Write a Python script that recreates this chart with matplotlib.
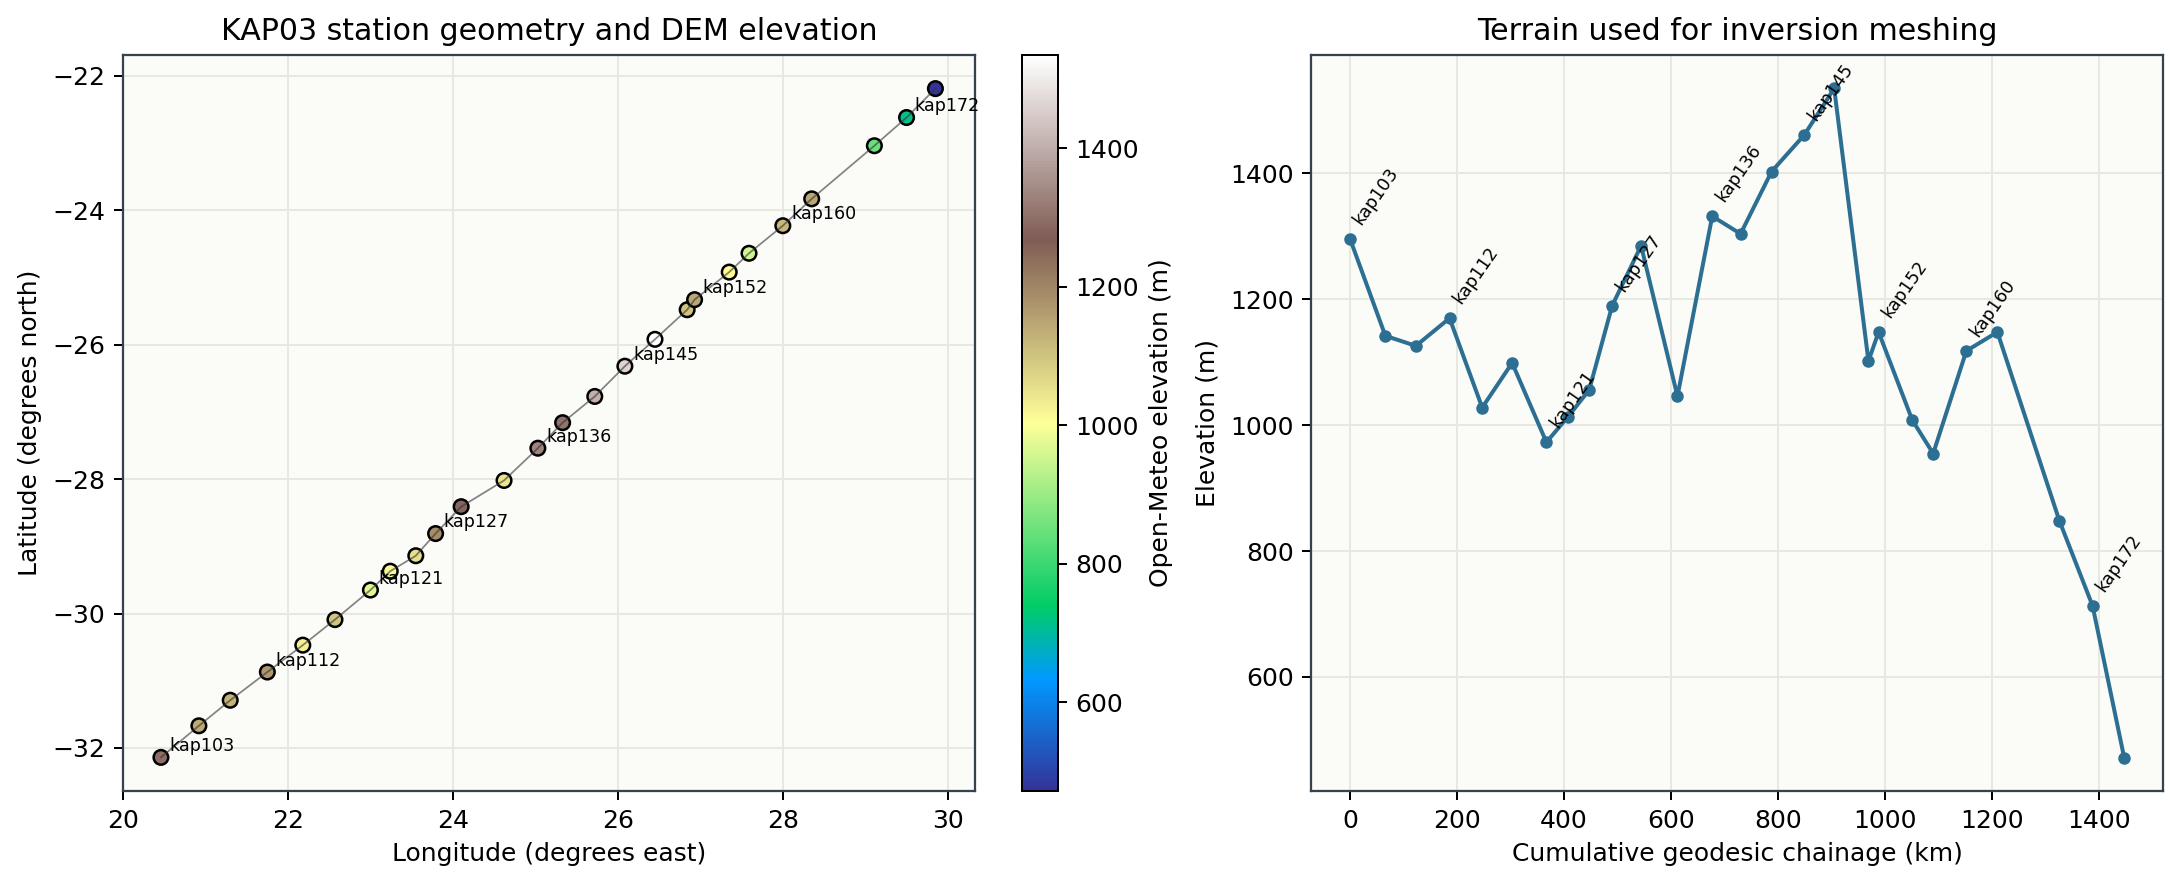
import matplotlib
matplotlib.use("Agg")
import matplotlib.pyplot as plt
import numpy as np

longitude = [20.46, 20.92, 21.30, 21.75, 22.18, 22.57, 23.00, 23.24, 23.55, 23.79, 24.10, 24.62, 25.03,
             25.33, 25.72, 26.085, 26.45, 26.84, 26.93, 27.35, 27.59, 28.00, 28.35, 29.11, 29.50, 29.85]
latitude = [-32.14, -31.67, -31.29, -30.87, -30.47, -30.09, -29.65, -29.37, -29.14, -28.81, -28.41, -28.02, -27.54,
            -27.16, -26.77, -26.32, -25.92, -25.48, -25.33, -24.92, -24.64, -24.23, -23.83, -23.04, -22.62, -22.19]
chainage = [0, 66, 123, 186, 247, 303, 367, 407, 447, 490, 544, 612, 677,
            730, 788, 849, 905, 969, 988, 1051, 1090, 1152, 1210, 1326, 1388, 1447]
elevation = [1296, 1142, 1126, 1170, 1028, 1099, 973, 1013, 1056, 1190, 1285, 1046, 1332,
             1304, 1403, 1461, 1535, 1102, 1148, 1008, 955, 1118, 1148, 848, 713, 472]
labelled_index = [0, 3, 6, 9, 12, 15, 18, 21, 24]
station_labels = ["kap103", "kap112", "kap121", "kap127", "kap136", "kap145", "kap152", "kap160", "kap172"]

W, H = 2180, 884
DPI = 180
BG = "#fbfcf8"
GRID = "#e8e8e2"
SPINE = "#36424e"
LINE = "#2d6f92"

def axes_px(fig, l, t, r, b):
    return fig.add_axes([l / W, 1 - b / H, (r - l) / W, (b - t) / H])

fig = plt.figure(figsize=(W / DPI, H / DPI), dpi=DPI)
ax1 = axes_px(fig, 123, 55, 975, 791)
cax = axes_px(fig, 1022, 55, 1058, 791)
ax2 = axes_px(fig, 1311, 55, 2163, 791)

for ax in (ax1, ax2):
    ax.set_facecolor(BG)
    ax.grid(True, color=GRID, lw=0.8)
    ax.set_axisbelow(True)
    for s in ax.spines.values():
        s.set_color(SPINE)
        s.set_linewidth(0.9)

ax1.plot(longitude, latitude, color="#333333", alpha=0.6, lw=0.7, zorder=3)
sc = ax1.scatter(longitude, latitude, c=elevation, cmap="terrain", s=34,
                 edgecolors="black", linewidths=1.0, zorder=2)
for i, name in zip(labelled_index, station_labels):
    ax1.annotate(name, (longitude[i], latitude[i]), xytext=(3.3, 2.6), textcoords="offset points",
                 fontsize=7, zorder=4)
ax1.set_xlim(20, 30.33)
ax1.set_ylim(-32.64, -21.69)
ax1.set_xticks([20, 22, 24, 26, 28, 30])
ax1.set_yticks([-32, -30, -28, -26, -24, -22])
ax1.set_xlabel("Longitude (degrees east)")
ax1.set_ylabel("Latitude (degrees north)")
ax1.set_title("KAP03 station geometry and DEM elevation")

cb = fig.colorbar(sc, cax=cax)
cb.set_label("Open-Meteo elevation (m)")
cb.set_ticks([600, 800, 1000, 1200, 1400])

ax2.plot(chainage, elevation, color=LINE, lw=1.6, marker="o", ms=4)
for i, name in zip(labelled_index, station_labels):
    ax2.annotate(name, (chainage[i], elevation[i]), xytext=(0, 6), textcoords="offset points",
                 fontsize=7, rotation=55)
ax2.set_xlim(-73, 1519.6)
ax2.set_ylim(418.9, 1588.1)
ax2.set_xticks([0, 200, 400, 600, 800, 1000, 1200, 1400])
ax2.set_yticks([600, 800, 1000, 1200, 1400])
ax2.set_xlabel("Cumulative geodesic chainage (km)")
ax2.set_ylabel("Elevation (m)")
ax2.set_title("Terrain used for inversion meshing")

fig.savefig("out.png", dpi=DPI)
